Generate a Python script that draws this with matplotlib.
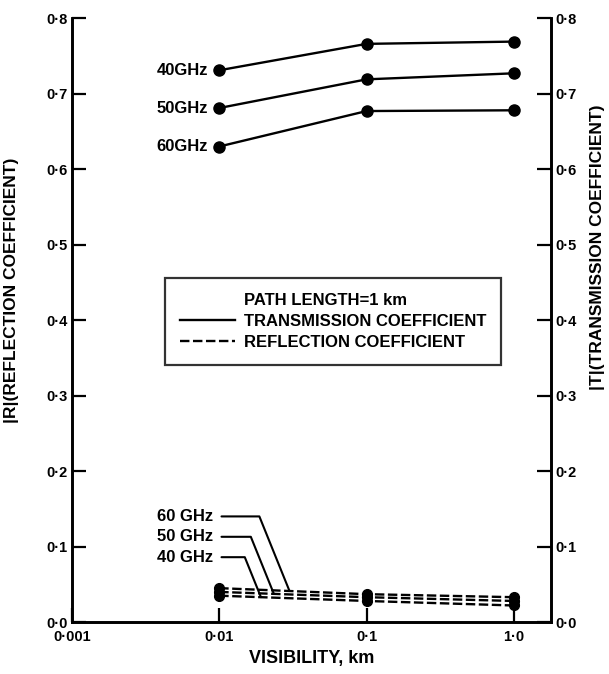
import numpy as np
import matplotlib.pyplot as plt
from matplotlib.lines import Line2D

plt.rcParams['font.family'] = ['Liberation Sans', 'DejaVu Sans']
plt.rcParams['font.weight'] = 'bold'

# visibility, km
visibility = [0.01, 0.1, 1.0]
freqs = ['40GHz', '50GHz', '60GHz']

# |T| transmission coefficient
trans_40 = [0.731, 0.766, 0.769]
trans_50 = [0.681, 0.719, 0.727]
trans_60 = [0.630, 0.677, 0.678]

# |R| reflection coefficient
refl_40 = [0.035, 0.028, 0.022]
refl_50 = [0.040, 0.033, 0.028]
refl_60 = [0.045, 0.037, 0.033]

yticks = [0.0, 0.1, 0.2, 0.3, 0.4, 0.5, 0.6, 0.7, 0.8]
ytick_labels = ['0·0', '0·1', '0·2', '0·3', '0·4', '0·5', '0·6', '0·7', '0·8']
xticks = [0.001, 0.01, 0.1, 1.0]
xtick_labels = ['0·001', '0·01', '0·1', '1·0']

fig = plt.figure(figsize=(6.09, 6.74), dpi=100)
ax = fig.add_axes([0.118, 0.077, 0.787, 0.896])

lw = 1.7
for t in [trans_40, trans_50, trans_60]:
    ax.plot(visibility, t, color='black', lw=lw, marker='o', ms=8)
for r in [refl_40, refl_50, refl_60]:
    ax.plot(visibility, r, color='black', lw=lw, ls=(0, (4, 1.5)), marker='o', ms=7)

ax.set_xscale('log')
ax.set_xlim(0.001, 1.79)
ax.set_ylim(0, 0.8)
ax.set_xticks(xticks)
ax.set_xticklabels(xtick_labels)
ax.minorticks_off()
ax.set_yticks(yticks)
ax.set_yticklabels(ytick_labels)

ax2 = ax.twinx()
ax2.set_ylim(0, 0.8)
ax2.set_yticks(yticks)
ax2.set_yticklabels(ytick_labels)

for a in [ax, ax2]:
    a.spines['top'].set_visible(False)
    for s in ['left', 'right', 'bottom']:
        a.spines[s].set_linewidth(1.9)
    a.tick_params(axis='both', direction='in', length=10, width=1.6,
                  labelsize=10.5, pad=3)
ax.tick_params(axis='x', pad=6)
ax.set_xlabel('VISIBILITY, km', fontsize=13, fontweight='bold', labelpad=4)
ax.set_ylabel('|R|(REFLECTION COEFFICIENT)', fontsize=12.5, fontweight='bold')
ax2.set_ylabel('|T|(TRANSMISSION COEFFICIENT)', fontsize=12.5, fontweight='bold')
ax.yaxis.set_label_coords(-0.11, 0.55)
ax2.yaxis.set_label_coords(1.082, 0.621)

# labels on transmission curves
for name, t in zip(freqs, [trans_40, trans_50, trans_60]):
    ax.annotate(name, xy=(visibility[0], t[0]), xytext=(-8, 0),
                textcoords='offset points', ha='right', va='center', fontsize=12)

# labels with leader lines for reflection curves
lead = [('60 GHz', refl_60, 0.030, 0.140),
        ('50 GHz', refl_50, 0.0235, 0.113),
        ('40 GHz', refl_40, 0.0192, 0.086)]
for name, r, xt, yt in lead:
    yr = np.interp(np.log10(xt), np.log10(visibility), r)
    ax.annotate(name, xy=(xt, yr), xytext=(0.0091, yt),
                ha='right', va='center', fontsize=12,
                arrowprops=dict(arrowstyle='-', lw=1.5, color='black',
                                shrinkA=4, shrinkB=0,
                                connectionstyle='angle,angleA=0,angleB=112,rad=0'))

# legend box
handles = [Line2D([], [], color='none'),
           Line2D([], [], color='black', lw=lw),
           Line2D([], [], color='black', lw=lw, ls=(0, (4, 1.5)))]
labels = ['PATH LENGTH=1 km', 'TRANSMISSION COEFFICIENT', 'REFLECTION COEFFICIENT']
leg = ax.legend(handles, labels, loc='center', bbox_to_anchor=(0.545, 0.498),
                frameon=True, fancybox=False, edgecolor='black', fontsize=12,
                handlelength=3.3, handletextpad=0.5, borderpad=0.9,
                labelspacing=0.35)
leg.get_frame().set_linewidth(1.6)

fig.savefig('out.png', dpi=100)
